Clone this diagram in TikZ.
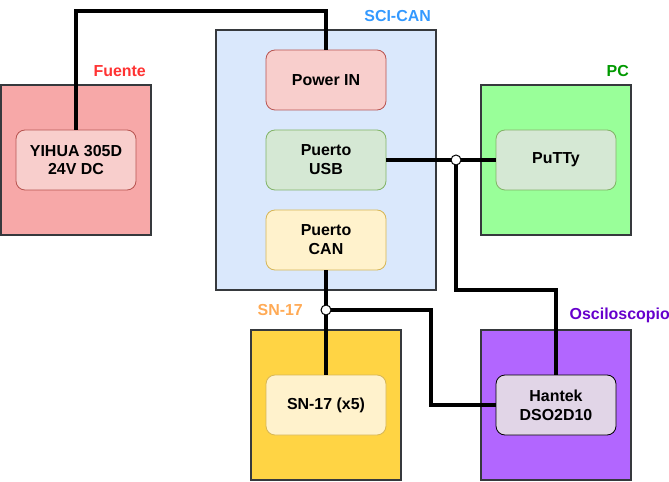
\documentclass[tikz,border=0pt]{standalone}
\usepackage{fontspec}
\setmainfont{Liberation Sans}
\usepackage{xcolor}
\definecolor{edgegray}{HTML}{36393D}
\definecolor{fuentefill}{HTML}{F7A8A8}
\definecolor{fuentetxt}{HTML}{FF3333}
\definecolor{scifill}{HTML}{DAE8FC}
\definecolor{scitxt}{HTML}{3399FF}
\definecolor{pcfill}{HTML}{99FF99}
\definecolor{pctxt}{HTML}{009900}
\definecolor{snfill}{HTML}{FFD444}
\definecolor{sntxt}{HTML}{FFAA55}
\definecolor{oscfill}{HTML}{B266FF}
\definecolor{osctxt}{HTML}{6600CC}
\definecolor{redfill}{HTML}{F8CECC}
\definecolor{redline}{HTML}{B85450}
\definecolor{greenfill}{HTML}{D5E8D4}
\definecolor{greenline}{HTML}{82B366}
\definecolor{yellowfill}{HTML}{FFF2CC}
\definecolor{yellowline}{HTML}{D6B656}
\definecolor{purplefill}{HTML}{E1D5E7}
\usepackage{tikz}

\tikzset{
  outerbox/.style={draw=edgegray, line width=2bp, inner sep=0pt, minimum width=150bp, minimum height=150bp},
  innerbox/.style={draw, line width=0.8bp, rounded corners=9bp, inner sep=0pt, minimum width=120bp, minimum height=60bp, align=center},
  wire/.style={line width=3.2bp, black},
  joint/.style={circle, draw, fill=white, line width=1bp, inner sep=0pt, minimum size=10bp},
  tag/.style={anchor=east, inner sep=0pt}
}

\begin{document}
\begin{tikzpicture}[x=1bp, y=-1bp, font=\fontsize{16}{19}\selectfont\bfseries]

\useasboundingbox (0,0) rectangle (669,482);

\node[outerbox, fill=fuentefill] (fuente) at (76,160) {};
\node[outerbox, fill=scifill, minimum width=220bp, minimum height=260bp] (scican) at (326,160) {};
\node[outerbox, fill=pcfill] (pc) at (556,160) {};
\node[outerbox, fill=snfill] (sn) at (326,405) {};
\node[outerbox, fill=oscfill] (osc) at (556,405) {};

\node[tag, text=fuentetxt] (lfuente) at (146,71) {Fuente};
\node[tag, text=scitxt] (lsci) at (431,16) {SCI-CAN};
\node[tag, text=pctxt] (lpc) at (629,71) {PC};
\node[tag, text=sntxt] (lsn) at (303,310) {SN-17};
\node[tag, text=osctxt] (losc) at (670,315) {Osciloscopio};

\node[innerbox, fill=redfill, draw=redline] (yihua) at (76,160) {YIHUA 305D\\24V DC};
\node[innerbox, fill=redfill, draw=redline] (pwr) at (326,80) {Power IN};
\node[innerbox, fill=greenfill, draw=greenline] (usb) at (326,160) {Puerto\\USB};
\node[innerbox, fill=yellowfill, draw=yellowline] (can) at (326,240) {Puerto\\CAN};
\node[innerbox, fill=greenfill, draw=greenline] (putty) at (556,160) {PuTTy};
\node[innerbox, fill=yellowfill, draw=yellowline] (snx) at (326,405) {SN-17 (x5)};
\node[innerbox, fill=purplefill, draw=black] (hantek) at (556,405) {Hantek\\DSO2D10};

\coordinate (jusb) at (456,160);
\coordinate (jcan) at (326,310);
\coordinate (bend1) at (456,290);
\coordinate (bend2) at (431,310);

\draw[wire] (yihua.north) -- (yihua.north |- 0,11) -| (pwr.north);

\draw[wire] (usb.east) -- (putty.west);
\draw[wire] (jusb) -- (bend1) -| (hantek.north);

\draw[wire] (can.south) -- (snx.north);
\draw[wire] (jcan) -- (bend2) |- (hantek.west);

\node[joint] (dusb) at (jusb) {};
\node[joint] (dcan) at (jcan) {};

\end{tikzpicture}
\end{document}
